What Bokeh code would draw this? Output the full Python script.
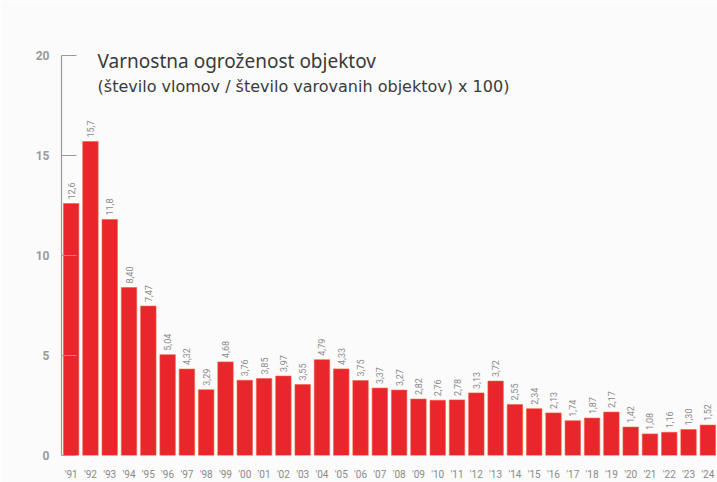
import math
from bokeh.plotting import figure
from bokeh.models import ColumnDataSource, Label, FactorRange
from bokeh.core.properties import value
from bokeh.embed import file_html
from bokeh.resources import INLINE

years = ["'91", "'92", "'93", "'94", "'95", "'96", "'97", "'98", "'99", "'00",
         "'01", "'02", "'03", "'04", "'05", "'06", "'07", "'08", "'09", "'10",
         "'11", "'12", "'13", "'14", "'15", "'16", "'17", "'18", "'19", "'20",
         "'21", "'22", "'23", "'24"]
values = [12.6, 15.7, 11.8, 8.40, 7.47, 5.04, 4.32, 3.29, 4.68, 3.76,
          3.85, 3.97, 3.55, 4.79, 4.33, 3.75, 3.37, 3.27, 2.82, 2.76,
          2.78, 3.13, 3.72, 2.55, 2.34, 2.13, 1.74, 1.87, 2.17, 1.42,
          1.08, 1.16, 1.30, 1.52]
labels = ["12,6", "15,7", "11,8", "8,40", "7,47", "5,04", "4,32", "3,29", "4,68", "3,76",
          "3,85", "3,97", "3,55", "4,79", "4,33", "3,75", "3,37", "3,27", "2,82", "2,76",
          "2,78", "3,13", "3,72", "2,55", "2,34", "2,13", "1,74", "1,87", "2,17", "1,42",
          "1,08", "1,16", "1,30", "1,52"]
y_ticks = [0, 5, 10, 15, 20]
title_text = "Varnostna ogroženost objektov"
subtitle_text = "(število vlomov / število varovanih objektov) x 100)"

src = ColumnDataSource(dict(year=years, val=values, lab=labels))

bg = "#fbfbfb"
p = figure(width=717, height=482, x_range=FactorRange(*years, range_padding=0),
           y_range=(0, 21), output_backend="svg", toolbar_location=None,
           min_border_left=61, min_border_top=35, min_border_bottom=27,
           min_border_right=0)
p.background_fill_color = bg
p.border_fill_color = bg
p.outline_line_color = None
p.grid.grid_line_color = None

p.vbar(x="year", top="val", width=0.8, source=src,
       fill_color="#e8262b", line_color="#f0603a", line_width=0.6)

p.text(x="year", y="val", text="lab", source=src, angle=math.pi / 2,
       text_align="left", text_baseline="middle", y_offset=-4,
       text_font=value("Roboto"), text_font_size="9px", text_color="#8a8a8a")

ya = p.yaxis[0]
ya.ticker = y_ticks
ya.bounds = (0, 20)
ya.axis_line_color = "#9a9a9a"
ya.axis_line_width = 1.2
ya.major_tick_line_color = "#9a9a9a"
ya.major_tick_line_width = 1.2
ya.major_tick_in = 15
ya.major_tick_out = 0
ya.minor_tick_line_color = None
ya.major_label_standoff = 12
ya.major_label_text_baseline = "top"
ya.major_label_text_font = "Roboto"
ya.major_label_text_font_style = "bold"
ya.major_label_text_font_size = "12px"
ya.major_label_text_color = "#9a9a9a"

xa = p.xaxis[0]
xa.axis_line_color = None
xa.major_tick_line_color = None
xa.minor_tick_line_color = None
xa.major_label_standoff = 7
xa.major_label_text_font = "Roboto"
xa.major_label_text_font_size = "10px"
xa.major_label_text_color = "#8a8a8a"

p.add_layout(Label(x=1.87, y=19.75, text=title_text, text_font="Noto Sans",
                   text_font_size="19px", text_color="#3a3a3a",
                   text_baseline="alphabetic"))
p.add_layout(Label(x=1.87, y=18.45, text=subtitle_text, text_font="DejaVu Sans",
                   text_font_size="16px", text_color="#3a3a3a",
                   text_baseline="alphabetic"))

open("out.html", "w").write(file_html(p, INLINE))
